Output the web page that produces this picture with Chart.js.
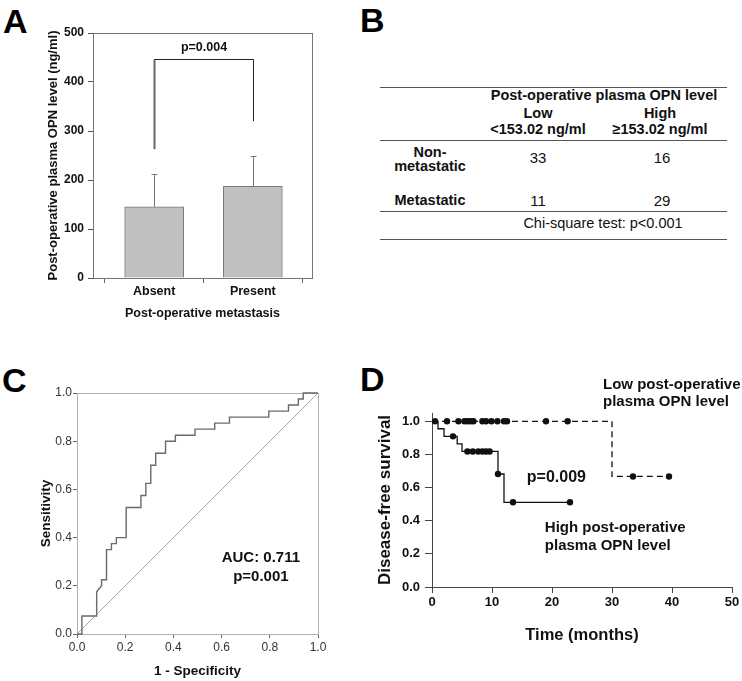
<!DOCTYPE html>
<html>
<head>
<meta charset="utf-8">
<script src="https://cdn.jsdelivr.net/npm/chart.js@4.4.1/dist/chart.umd.min.js"></script>
<style>
  html, body { margin: 0; padding: 0; background: #fff; }
  body { width: 742px; height: 681px; position: relative; overflow: hidden;
         font-family: "Liberation Sans", Arial, Helvetica, sans-serif; color: #111; }
  canvas { position: absolute; }
  .letter { position: absolute; font-weight: bold; font-size: 34px; line-height: 34px; color: #000; }
  .t { position: absolute; transform: translate(-50%, -50%); white-space: nowrap; font-size: 14.5px; line-height: 16px; }
  .b { font-weight: bold; }
  .rule { position: absolute; left: 380px; width: 347px; height: 1px; background: #555; }
</style>
</head>
<body>
<div class="letter" style="left:3px;top:3.5px">A</div>
<div class="letter" style="left:360px;top:2.5px">B</div>
<div class="letter" style="left:2px;top:362.5px">C</div>
<div class="letter" style="left:360px;top:361.5px">D</div>

<canvas id="chartA" width="340" height="330" style="left:0;top:0"></canvas>
<div id="tableB"></div>
<canvas id="chartC" width="340" height="341" style="left:0;top:340px"></canvas>
<canvas id="chartD" width="372" height="341" style="left:370px;top:340px"></canvas>

<script>
Chart.defaults.font.family = '"Liberation Sans", Arial, Helvetica, sans-serif';
Chart.defaults.color = '#111';

// ---- A: OPN level by metastasis ----
const metCats = ['Absent', 'Present'];
const opnMean = [145, 187];
const opnErrTop = [212, 249];
const bracketFoot = [263, 320];   // lower ends of the bracket (ng/ml)
const bracketTop = 447;
const pLabelA = 'p=0.004';
const yTicksA = [0, 100, 200, 300, 400, 500];

// ---- B: contingency table ----
const tableRows = [['Non-', 'metastatic'], ['Metastatic']];
const tableCols = [['Low', '<153.02 ng/ml'], ['High', '\u2265153.02 ng/ml']];
const lowCounts = [33, 11];
const highCounts = [16, 29];
const chiText = 'Chi-square test: p<0.001';

// ---- C: ROC curve (counts of false / true positives at each corner) ----
const nNeg = 49, nPos = 40;
const rocFP = [0, 1, 1, 4, 4, 5, 5, 6, 6, 7, 7, 8, 8, 10, 10, 13, 13, 14, 14, 15, 15, 16, 16, 18, 18, 20, 20, 24, 24, 28, 28, 31, 31, 39, 39, 43, 43, 45, 45, 46, 46, 49];
const rocTP = [0, 0, 3, 3, 7, 8, 9, 9, 14, 14, 15, 15, 16, 16, 21, 21, 23, 23, 25, 25, 28, 28, 30, 30, 32, 32, 33, 33, 34, 34, 35, 35, 36, 36, 37, 37, 38, 38, 39, 39, 40, 40];
const aucText = ['AUC: 0.711', 'p=0.001'];

// ---- D: Kaplan-Meier ----
const lowT = [0, 30, 39.5];
const lowS = [1, 0.667, 0.667];
const highT = [0, 1, 2, 4.2, 5, 11, 12, 23];
const highS = [1, 0.955, 0.909, 0.864, 0.818, 0.682, 0.511, 0.511];
const lowCensT = [0.5, 2.5, 4.4, 5.4, 5.9, 6.4, 6.9, 8.4, 9.0, 9.9, 10.9, 12.0, 12.5, 19.0, 22.6, 33.5, 39.5];
const lowCensS = [1, 1, 1, 1, 1, 1, 1, 1, 1, 1, 1, 1, 1, 1, 1, 0.667, 0.667];
const highCensT = [3.5, 5.9, 6.8, 7.7, 8.4, 9.0, 9.6, 11.0, 13.5, 23];
const highCensS = [0.909, 0.818, 0.818, 0.818, 0.818, 0.818, 0.818, 0.682, 0.511, 0.511];
const xTicksD = [0, 10, 20, 30, 40, 50];
const yTicksD = [0, 0.2, 0.4, 0.6, 0.8, 1.0];

function text(ctx, str, x, y, font, align) {
  ctx.save();
  ctx.font = font;
  ctx.fillStyle = '#111';
  ctx.textAlign = align || 'center';
  ctx.textBaseline = 'middle';
  ctx.fillText(str, x, y);
  ctx.restore();
}

function frame(chart, color) {
  const a = chart.chartArea, ctx = chart.ctx;
  ctx.save();
  ctx.strokeStyle = color;
  ctx.lineWidth = 1;
  ctx.strokeRect(Math.round(a.left) + 0.5, Math.round(a.top) + 0.5,
                 Math.round(a.right - a.left), Math.round(a.bottom - a.top));
  ctx.restore();
}

const fontB = (s) => 'bold ' + s + 'px "Liberation Sans", Arial, sans-serif';

// ---------- chart A ----------
new Chart(document.getElementById('chartA'), {
  type: 'bar',
  data: {
    datasets: [{
      data: metCats.map((c, i) => ({ x: i, y: opnMean[i] })),
      backgroundColor: '#c0c0c0',
      borderColor: '#7a7a7a',
      borderWidth: 1,
      barThickness: 59
    }]
  },
  options: {
    responsive: false, animation: false, events: [],
    layout: { padding: { top: 33, right: 28, left: 0, bottom: 0 } },
    plugins: { legend: { display: false }, tooltip: { enabled: false } },
    scales: {
      x: {
        type: 'linear', min: -0.62, max: 1.6, offset: false,
        afterBuildTicks: s => { s.ticks = metCats.map((c, i) => ({ value: i })); },
        ticks: { callback: v => metCats[v], font: { size: 12.5, weight: 'bold' }, color: '#111', padding: 1, maxRotation: 0 },
        grid: { drawOnChartArea: false, tickLength: 5, color: '#666' },
        border: { color: '#555' },
        title: { display: true, text: 'Post-operative metastasis', font: { size: 12.5, weight: 'bold' }, color: '#111', padding: { top: 0, bottom: 8.5 } },
        afterFit: s => { s.height = 52; }
      },
      y: {
        min: 0, max: 500,
        afterBuildTicks: s => { s.ticks = yTicksA.map(v => ({ value: v })); },
        ticks: { font: { size: 12, weight: 'bold' }, color: '#111', padding: 4 },
        grid: { drawOnChartArea: false, tickLength: 5, color: '#555' },
        border: { color: '#555' },
        title: { display: true, text: 'Post-operative plasma OPN level (ng/ml)', font: { size: 13, weight: 'bold' }, color: '#111', padding: { top: 45.2, bottom: 0 } },
        afterFit: s => { s.width = 93; }
      }
    }
  },
  plugins: [{
    id: 'annotA',
    afterDraw(chart) {
      const { ctx, scales: { x, y } } = chart;
      frame(chart, '#777');
      ctx.save();
      ctx.strokeStyle = '#777';
      ctx.lineWidth = 1;
      metCats.forEach((c, i) => {
        const px = Math.round(x.getPixelForValue(i)) + 0.5;
        const y0 = y.getPixelForValue(opnMean[i]);
        const y1 = Math.round(y.getPixelForValue(opnErrTop[i])) + 0.5;
        ctx.beginPath();
        ctx.moveTo(px, y0); ctx.lineTo(px, y1);
        ctx.moveTo(px - 3, y1); ctx.lineTo(px + 3, y1);
        ctx.stroke();
      });
      const xl = Math.round(x.getPixelForValue(0)) + 0.5;
      const xr = Math.round(x.getPixelForValue(1)) + 0.5;
      const yt = Math.round(y.getPixelForValue(bracketTop)) + 0.5;
      ctx.strokeStyle = '#666';
      ctx.lineWidth = 2;
      ctx.beginPath();
      ctx.moveTo(xl, y.getPixelForValue(bracketFoot[0])); ctx.lineTo(xl, yt);
      ctx.stroke();
      ctx.strokeStyle = '#222';
      ctx.lineWidth = 1;
      ctx.beginPath();
      ctx.moveTo(xl, yt); ctx.lineTo(xr, yt); ctx.lineTo(xr, y.getPixelForValue(bracketFoot[1]));
      ctx.stroke();
      ctx.restore();
      text(ctx, pLabelA, (xl + xr) / 2, y.getPixelForValue(470), fontB(12.5));
    }
  }]
});

// ---------- table B ----------
(function () {
  const el = document.getElementById('tableB');
  const colX = [538, 660];
  let h = '';
  [86.7, 140, 210.7, 239].forEach(y => { h += `<div class="rule" style="top:${y}px"></div>`; });
  h += `<div class="t b" style="left:604px;top:95px">Post-operative plasma OPN level</div>`;
  tableCols.forEach((c, i) => {
    h += `<div class="t b" style="left:${colX[i]}px;top:113px">${c[0]}</div>`;
    h += `<div class="t b" style="left:${colX[i]}px;top:129px">${c[1].replace('<', '&lt;')}</div>`;
  });
  const rowY = [158, 201];
  tableRows.forEach((r, i) => {
    if (r.length === 2) {
      h += `<div class="t b" style="left:430px;top:${rowY[i] - 6}px">${r[0]}</div>`;
      h += `<div class="t b" style="left:430px;top:${rowY[i] + 8}px">${r[1]}</div>`;
    } else {
      h += `<div class="t b" style="left:430px;top:${rowY[i] - 1}px">${r[0]}</div>`;
    }
    h += `<div class="t" style="left:${colX[0]}px;top:${rowY[i]}px;font-size:15px">${lowCounts[i]}</div>`;
    h += `<div class="t" style="left:${colX[1] + 2}px;top:${rowY[i]}px;font-size:15px">${highCounts[i]}</div>`;
  });
  h += `<div class="t" style="left:603px;top:223px">${chiText.replace('<', '&lt;')}</div>`;
  el.innerHTML = h;
})();

// ---------- chart C ----------
new Chart(document.getElementById('chartC'), {
  type: 'line',
  data: {
    datasets: [
      {
        data: rocFP.map((f, i) => ({ x: f / nNeg, y: rocTP[i] / nPos })),
        borderColor: '#6a6a6a', borderWidth: 1.4, pointRadius: 0, tension: 0, clip: 4
      },
      {
        data: [{ x: 0, y: 0 }, { x: 1, y: 1 }],
        borderColor: '#a8a8a8', borderWidth: 1, pointRadius: 0
      }
    ]
  },
  options: {
    responsive: false, animation: false, events: [],
    layout: { padding: { top: 53, right: 22, left: 0, bottom: 0 } },
    plugins: { legend: { display: false }, tooltip: { enabled: false } },
    scales: {
      x: {
        type: 'linear', min: 0, max: 1,
        ticks: { stepSize: 0.2, callback: v => v.toFixed(1), font: { size: 12 }, color: '#333', padding: 2, maxRotation: 0 },
        grid: { drawOnChartArea: false, tickLength: 4, color: '#666' },
        border: { color: '#b0b0b0' },
        title: { display: true, text: '1 - Specificity', font: { size: 13.5, weight: 'bold' }, color: '#111', padding: { top: 0, bottom: 1.9 } },
        afterFit: s => { s.height = 47; }
      },
      y: {
        type: 'linear', min: 0, max: 1,
        ticks: { stepSize: 0.2, callback: v => v.toFixed(1), font: { size: 12 }, color: '#333', padding: 1 },
        grid: { drawOnChartArea: false, tickLength: 4, color: '#666' },
        border: { color: '#b0b0b0' },
        title: { display: true, text: 'Sensitivity', font: { size: 13.5, weight: 'bold' }, color: '#111', padding: { top: 37.9, bottom: 0 } },
        afterFit: s => { s.width = 77; }
      }
    }
  },
  plugins: [{
    id: 'annotC',
    beforeDatasetsDraw(chart) { frame(chart, '#b0b0b0'); },
    afterDraw(chart) {
      const { ctx, scales: { x, y } } = chart;
      text(ctx, aucText[0], x.getPixelForValue(0.763), y.getPixelForValue(0.315), fontB(15));
      text(ctx, aucText[1], x.getPixelForValue(0.763), y.getPixelForValue(0.237), fontB(15));
    }
  }]
});

// ---------- chart D ----------
const toPts = (t, s) => t.map((v, i) => ({ x: v, y: s[i] }));
new Chart(document.getElementById('chartD'), {
  type: 'line',
  data: {
    datasets: [
      { data: toPts(lowT, lowS), stepped: true, borderColor: '#111', borderWidth: 1.3, borderDash: [6, 4], pointRadius: 0 },
      { data: toPts(highT, highS), stepped: true, borderColor: '#111', borderWidth: 1.3, pointRadius: 0 },
      { data: toPts(lowCensT, lowCensS), showLine: false, pointRadius: 3.2, pointBackgroundColor: '#111', pointBorderWidth: 0 },
      { data: toPts(highCensT, highCensS), showLine: false, pointRadius: 3.2, pointBackgroundColor: '#111', pointBorderWidth: 0 }
    ]
  },
  options: {
    responsive: false, animation: false, events: [],
    layout: { padding: { top: 73, right: 10, left: 0, bottom: 0 } },
    plugins: { legend: { display: false }, tooltip: { enabled: false } },
    scales: {
      x: {
        type: 'linear', min: 0, max: 50,
        afterBuildTicks: s => { s.ticks = xTicksD.map(v => ({ value: v })); },
        ticks: { font: { size: 13, weight: 'bold' }, color: '#111', padding: 2, maxRotation: 0 },
        grid: { drawOnChartArea: false, tickLength: 6, color: '#444' },
        border: { color: '#444' },
        title: { display: true, text: 'Time (months)', font: { size: 16.5, weight: 'bold' }, color: '#111', padding: { top: 0, bottom: 36.1 } },
        afterFit: s => { s.height = 94; }
      },
      y: {
        type: 'linear', min: 0, max: 1.05,
        afterBuildTicks: s => { s.ticks = yTicksD.map(v => ({ value: v })); },
        ticks: { callback: v => v.toFixed(1), font: { size: 13, weight: 'bold' }, color: '#111', padding: 5 },
        grid: { drawOnChartArea: false, tickLength: 7, color: '#444' },
        border: { color: '#444' },
        title: { display: true, text: 'Disease-free survival', font: { size: 17, weight: 'bold' }, color: '#111', padding: { top: 4.8, bottom: 0 } },
        afterFit: s => { s.width = 62; }
      }
    }
  },
  plugins: [{
    id: 'annotD',
    afterDraw(chart) {
      const { ctx, scales: { x, y } } = chart;
      const f = fontB(15);
      text(ctx, 'Low post-operative', x.getPixelForValue(28.5), y.getPixelForValue(1.222), f, 'left');
      text(ctx, 'plasma OPN level', x.getPixelForValue(28.5), y.getPixelForValue(1.119), f, 'left');
      text(ctx, 'p=0.009', x.getPixelForValue(15.8), y.getPixelForValue(0.659), fontB(16), 'left');
      text(ctx, 'High post-operative', x.getPixelForValue(18.8), y.getPixelForValue(0.356), f, 'left');
      text(ctx, 'plasma OPN level', x.getPixelForValue(18.8), y.getPixelForValue(0.246), f, 'left');
    }
  }]
});
</script>
</body>
</html>
